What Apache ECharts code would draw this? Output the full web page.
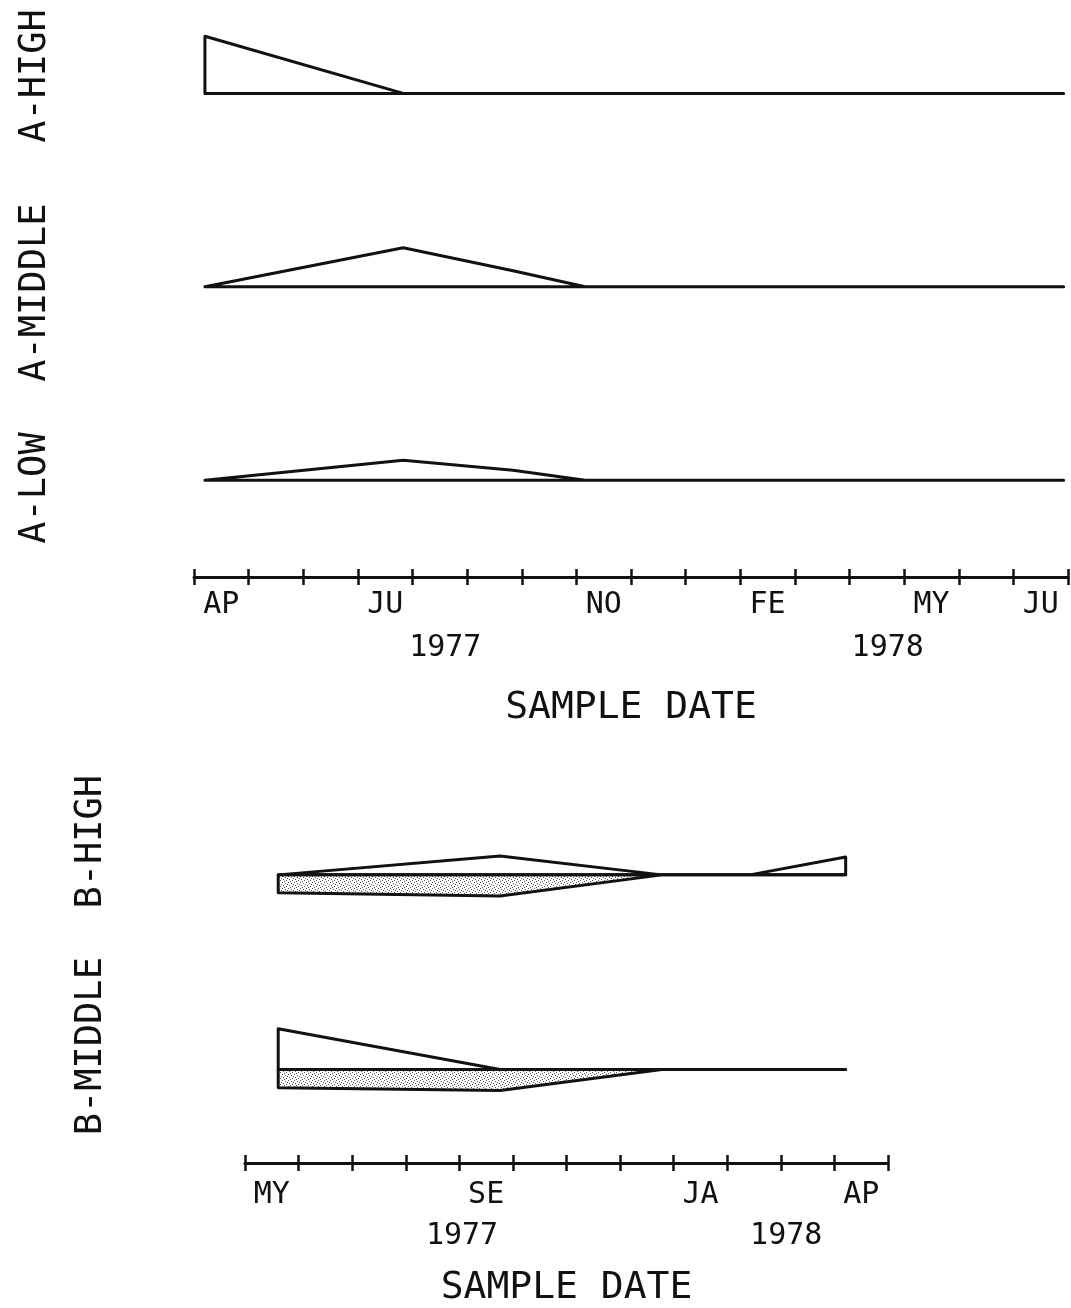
<!DOCTYPE html>
<html>
<head>
<meta charset="utf-8">
<script src="https://cdn.jsdelivr.net/npm/echarts@6/dist/echarts.min.js"></script>
<style>
  html, body { margin: 0; padding: 0; background: #fff; }
  #chart { width: 1071px; height: 1308px; }
</style>
</head>
<body>
<div id="chart"></div>
<script>
// ---------- DATA ----------
// Top panel (site A): sample dates in months after 1 April 1977
const topSampleMonths = [0.2, 3.83, 5.84, 7.16, 15.92];
const aHigh   = [29.5, 0, 0, 0, 0];
const aMiddle = [0, 20.2, 8.3, 0, 0];
const aLow    = [0, 10.3, 5.2, 0, 0];
const topRowNames = ['A-LOW', 'A-MIDDLE', 'A-HIGH'];
const topMonthLabels = ['AP', '', '', 'JU', '', '', '', 'NO', '', '', 'FE', '', '', 'MY', '', 'JU'];
const topYearAt = [4.6, 12.7];
const topYearText = ['1977', '1978'];

// Bottom panel (site B): sample dates in months after 1 May 1977
const botSampleMonths = [0.62, 4.76, 7.78, 9.42, 11.21];
const bHighUpper = [0, 9.7, 0, 0, 9.2];
const bHighLower = [9.2, 10.8, 0, 0, 0];
const bMidUpper  = [21, 0, 0, 0, 0];
const bMidLower  = [9.3, 10.8, 0, 0, 0];
const botRowNames = ['B-MIDDLE', 'B-HIGH'];
const botMonthLabels = ['MY', '', '', '', 'SE', '', '', '', 'JA', '', '', 'AP'];
const botYearAt = [4.05, 10.1];
const botYearText = ['1977', '1978'];

// row baselines (axis units)
const topRows = [0, 100, 200];
const botRows = [0, 100];

// ---------- STYLE ----------
const FONT = 'DejaVu Sans Mono';
const INK = '#111';
const LW = 3;

const stipple = (function () {
  const c = document.createElement('canvas');
  c.width = 6; c.height = 6;
  const g = c.getContext('2d');
  g.fillStyle = '#ffffff'; g.fillRect(0, 0, 6, 6);
  g.fillStyle = '#555555';
  [[0, 0], [3, 1], [1, 3], [4, 4], [5, 2], [2, 5]].forEach(function (p) { g.fillRect(p[0], p[1], 1, 1); });
  return c;
})();

const topKites = [
  { row: topRows[2], vals: aHigh, side: 1 },
  { row: topRows[1], vals: aMiddle, side: 1 },
  { row: topRows[0], vals: aLow, side: 1 }
];
const botKites = [
  { row: botRows[1], vals: bHighLower, side: -1 },
  { row: botRows[1], vals: bHighUpper, side: 1 },
  { row: botRows[0], vals: bMidLower, side: -1 },
  { row: botRows[0], vals: bMidUpper, side: 1 }
];

function kiteRenderer(kites, months) {
  return function (params, api) {
    const k = kites[params.dataIndex];
    const pts = [];
    for (let i = 0; i < months.length; i++) pts.push(api.coord([months[i], k.row]));
    for (let i = months.length - 1; i >= 0; i--) pts.push(api.coord([months[i], k.row + k.side * k.vals[i]]));
    return {
      type: 'polygon',
      shape: { points: pts },
      style: {
        fill: k.side < 0 ? { image: stipple, repeat: 'repeat' } : 'rgba(0,0,0,0)',
        stroke: INK, lineWidth: LW, lineJoin: 'round'
      }
    };
  };
}

function monthAxes(gridIndex, labels, labelMargin) {
  return [
    {
      type: 'category', gridIndex: gridIndex, data: labels, boundaryGap: true, position: 'bottom',
      axisLine: { show: true, lineStyle: { color: INK, width: LW } },
      axisTick: { show: true, interval: 0, inside: false, length: 8, lineStyle: { color: INK, width: 2.5 } },
      axisLabel: { interval: 0, margin: labelMargin, color: INK, fontFamily: FONT, fontSize: 30 },
      splitLine: { show: false }
    },
    {
      type: 'category', gridIndex: gridIndex, data: labels, boundaryGap: true, position: 'bottom',
      axisLine: { show: false },
      axisTick: { show: true, interval: 0, inside: true, length: 8, lineStyle: { color: INK, width: 2.5 } },
      axisLabel: { show: false },
      splitLine: { show: false }
    }
  ];
}

function yearAxis(gridIndex, maxMonth, at, text, margin, nameGap) {
  return {
    type: 'value', gridIndex: gridIndex, min: 0, max: maxMonth, position: 'bottom',
    axisLine: { show: false }, axisTick: { show: false }, splitLine: { show: false },
    axisLabel: {
      customValues: at, margin: margin, color: INK, fontFamily: FONT, fontSize: 30,
      formatter: function (v) { const i = at.indexOf(v); return i >= 0 ? text[i] : ''; }
    },
    name: 'SAMPLE DATE', nameLocation: 'middle', nameGap: nameGap,
    nameTextStyle: { color: INK, fontFamily: FONT, fontSize: 38 }
  };
}

function rowAxis(gridIndex, min, max, at, names, margin) {
  return {
    type: 'value', gridIndex: gridIndex, min: min, max: max,
    axisLine: { show: false }, axisTick: { show: false }, splitLine: { show: false },
    axisLabel: {
      customValues: at, rotate: 90, margin: margin, color: INK, fontFamily: FONT, fontSize: 37,
      formatter: function (v) { const i = at.indexOf(v); return i >= 0 ? names[i] : ''; }
    }
  };
}

const chart = echarts.init(document.getElementById('chart'), null, { renderer: 'canvas' });
chart.setOption({
  backgroundColor: '#ffffff',
  animation: false,
  grid: [
    { left: 194, right: 3, top: 16, bottom: 731 },
    { left: 245, right: 183, top: 797, bottom: 144 }
  ],
  xAxis: [
    { type: 'value', gridIndex: 0, min: 0, max: 16, show: false },
    { type: 'value', gridIndex: 1, min: 0, max: 12, show: false }
  ].concat(monthAxes(0, topMonthLabels, 13))
   .concat(monthAxes(1, botMonthLabels, 17))
   .concat([
     yearAxis(0, 16, topYearAt, topYearText, 56, 112),
     yearAxis(1, 12, botYearAt, botYearText, 58, 106)
   ]),
  yAxis: [
    rowAxis(0, -50, 240, [-4, 97, 209], topRowNames, 140),
    rowAxis(1, -48, 140, [12, 117], botRowNames, 135)
  ],
  series: [
    {
      type: 'custom', xAxisIndex: 0, yAxisIndex: 0, clip: false,
      renderItem: kiteRenderer(topKites, topSampleMonths),
      data: topKites.map(function (k) { return [topSampleMonths[0], k.row]; })
    },
    {
      type: 'custom', xAxisIndex: 1, yAxisIndex: 1, clip: false,
      renderItem: kiteRenderer(botKites, botSampleMonths),
      data: botKites.map(function (k) { return [botSampleMonths[0], k.row]; })
    }
  ]
});
</script>
</body>
</html>
